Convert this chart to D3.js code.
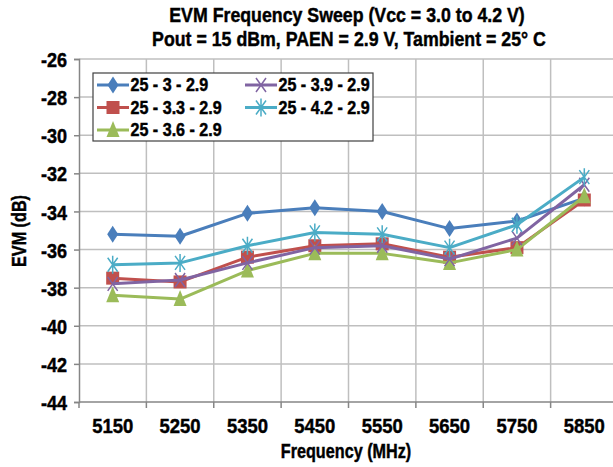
<!DOCTYPE html>
<html>
<head>
<meta charset="utf-8">
<script src="https://cdn.jsdelivr.net/npm/d3@7"></script>
<style>
  body { margin: 0; background: #fff; }
  svg { display: block; }
  text { font-family: "Liberation Sans", Arial, sans-serif; font-weight: bold; fill: #000; stroke: #000; stroke-width: 0.45px; }
</style>
</head>
<body>
<script>
// data
var freqs = ["5150", "5250", "5350", "5450", "5550", "5650", "5750", "5850"];
var yTicks = [-26, -28, -30, -32, -34, -36, -38, -40, -42, -44];
var seriesNames = ["25 - 3 - 2.9", "25 - 3.3 - 2.9", "25 - 3.6 - 2.9", "25 - 3.9 - 2.9", "25 - 4.2 - 2.9"];
var evm30 = [-35.2, -35.3, -34.1, -33.8, -34.0, -34.9, -34.5, -33.3];
var evm33 = [-37.5, -37.7, -36.4, -35.8, -35.7, -36.4, -35.9, -33.4];
var evm36 = [-38.4, -38.6, -37.1, -36.2, -36.2, -36.7, -36.0, -33.2];
var evm39 = [-37.8, -37.6, -36.7, -35.9, -35.8, -36.5, -35.4, -32.6];
var evm42 = [-36.8, -36.7, -35.8, -35.1, -35.2, -35.9, -34.7, -32.2];
var seriesValues = [evm30, evm33, evm36, evm39, evm42];
var colors = ["#4a7ebb", "#c0504d", "#9bbb59", "#8064a2", "#4bacc6"];
var markers = ["diamond", "square", "triangle", "x", "asterisk"];

var W = 613, H = 467;
var plot = {left: 79, right: 618, top: 59, bottom: 402};
var squeeze = 0.86;   // fake a condensed face by squashing text sideways

var svg = d3.select("body").append("svg")
    .attr("width", W)
    .attr("height", H);

var x = d3.scaleBand().domain(freqs).range([plot.left, plot.right]);
var y = d3.scaleLinear().domain([-44, -26]).range([plot.bottom, plot.top]);

// text helper: place at (tx,ty), squashed horizontally
function label(parent, tx, ty, str, size, anchor, sx, rot) {
    var t = parent.append("text")
        .attr("transform", "translate(" + tx + "," + ty + ")" + (rot ? " rotate(" + rot + ")" : "") + " scale(" + sx + ",1)")
        .attr("text-anchor", anchor)
        .style("font-size", size + "px")
        .text(str);
    return t;
}

// gridlines
svg.append("g").selectAll("line")
    .data(yTicks.filter(function(d) { return d != -44; }))
    .enter().append("line")
    .attr("x1", plot.left).attr("x2", W)
    .attr("y1", function(d) { return y(d); })
    .attr("y2", function(d) { return y(d); })
    .attr("stroke", "#bfbfbf").attr("stroke-width", 1.5);

svg.append("g").selectAll("line")
    .data(freqs.slice(1))
    .enter().append("line")
    .attr("x1", function(d) { return x(d); })
    .attr("x2", function(d) { return x(d); })
    .attr("y1", plot.top).attr("y2", plot.bottom)
    .attr("stroke", "#bfbfbf").attr("stroke-width", 1.5);

// y axis
var yAxis = svg.append("g")
    .attr("transform", "translate(" + plot.left + ",0)")
    .call(d3.axisLeft(y).tickValues(yTicks).tickSize(5).tickFormat(function(d) { return String(d); }));
yAxis.select(".domain").attr("stroke", "#868686").attr("stroke-width", 1.5);
yAxis.selectAll(".tick line").attr("stroke", "#868686").attr("stroke-width", 1.5);
yAxis.selectAll("text")
    .attr("fill", "#000")
    .style("font-size", "21px")
    .attr("x", -12 / squeeze)
    .attr("dy", "0.36em")
    .attr("transform", "scale(" + squeeze + ",1)");

// x axis
var xAxis = svg.append("g")
    .attr("transform", "translate(0," + plot.bottom + ")")
    .call(d3.axisBottom(x).tickSize(0).tickPadding(16));
xAxis.select(".domain").remove();
xAxis.selectAll("text")
    .attr("fill", "#000")
    .style("font-size", "21px")
    .attr("transform", "scale(0.88,1)");
svg.append("line")
    .attr("x1", plot.left).attr("x2", W)
    .attr("y1", plot.bottom).attr("y2", plot.bottom)
    .attr("stroke", "#868686").attr("stroke-width", 1.5);
svg.append("g").selectAll("line")
    .data(freqs)
    .enter().append("line")
    .attr("x1", function(d) { return x(d); })
    .attr("x2", function(d) { return x(d); })
    .attr("y1", plot.bottom).attr("y2", plot.bottom + 6)
    .attr("stroke", "#868686").attr("stroke-width", 1.5);

// marker shapes
function drawMarker(g, type, color) {
    if (type == "diamond") {
        g.append("path").attr("d", "M0,-8.5L5.5,0L0,8.5L-5.5,0Z").attr("fill", color);
    } else if (type == "square") {
        g.append("rect").attr("x", -6.5).attr("y", -6.5).attr("width", 13).attr("height", 13).attr("fill", color);
    } else if (type == "triangle") {
        g.append("path").attr("d", "M0,-9L6.5,7L-6.5,7Z").attr("fill", color);
    } else if (type == "x") {
        g.append("path").attr("d", "M-5,-7L5,7M5,-7L-5,7")
            .attr("stroke", color).attr("stroke-width", 1.5).attr("fill", "none");
    } else {
        g.append("path").attr("d", "M-5,-7L5,7M5,-7L-5,7M0,-9V9")
            .attr("stroke", color).attr("stroke-width", 1.5).attr("fill", "none");
    }
}

var line = d3.line()
    .x(function(d, i) { return x(freqs[i]) + x.bandwidth() / 2; })
    .y(function(d) { return y(d); });

seriesValues.forEach(function(vals, s) {
    var g = svg.append("g");
    g.append("path")
        .attr("d", line(vals))
        .attr("fill", "none")
        .attr("stroke", colors[s])
        .attr("stroke-width", 3)
        .attr("stroke-linejoin", "round");
    vals.forEach(function(v, i) {
        var m = g.append("g")
            .attr("transform", "translate(" + (x(freqs[i]) + x.bandwidth() / 2) + "," + y(v) + ")");
        drawMarker(m, markers[s], colors[s]);
    });
});

// legend
var legend = svg.append("g");
legend.append("rect")
    .attr("x", 93).attr("y", 73).attr("width", 280).attr("height", 68)
    .attr("fill", "#fff").attr("stroke", "#404040").attr("stroke-width", 1.2);
var legPos = [[97, 85], [97, 107.5], [97, 130], [245, 85], [245, 107.5]];
seriesNames.forEach(function(name, s) {
    var lg = legend.append("g").attr("transform", "translate(" + legPos[s][0] + "," + legPos[s][1] + ")");
    lg.append("line").attr("x1", 0).attr("x2", 32).attr("y1", 0).attr("y2", 0)
        .attr("stroke", colors[s]).attr("stroke-width", 3);
    var m = lg.append("g").attr("transform", "translate(16,0)");
    drawMarker(m, markers[s], colors[s]);
    label(lg, 33.5, 6.3, name, 17.5, "start", 0.92);
});

// titles
label(svg, 347, 22, "EVM Frequency Sweep (Vcc = 3.0 to 4.2 V)", 21, "middle", 0.845);
label(svg, 349, 45.5, "Pout = 15 dBm, PAEN = 2.9 V, Tambient = 25\u00b0 C", 21, "middle", 0.845);
label(svg, 346, 458, "Frequency (MHz)", 20, "middle", 0.81);
label(svg, 26, 231, "EVM (dB)", 20, "middle", 0.81, -90);
</script>
</body>
</html>
